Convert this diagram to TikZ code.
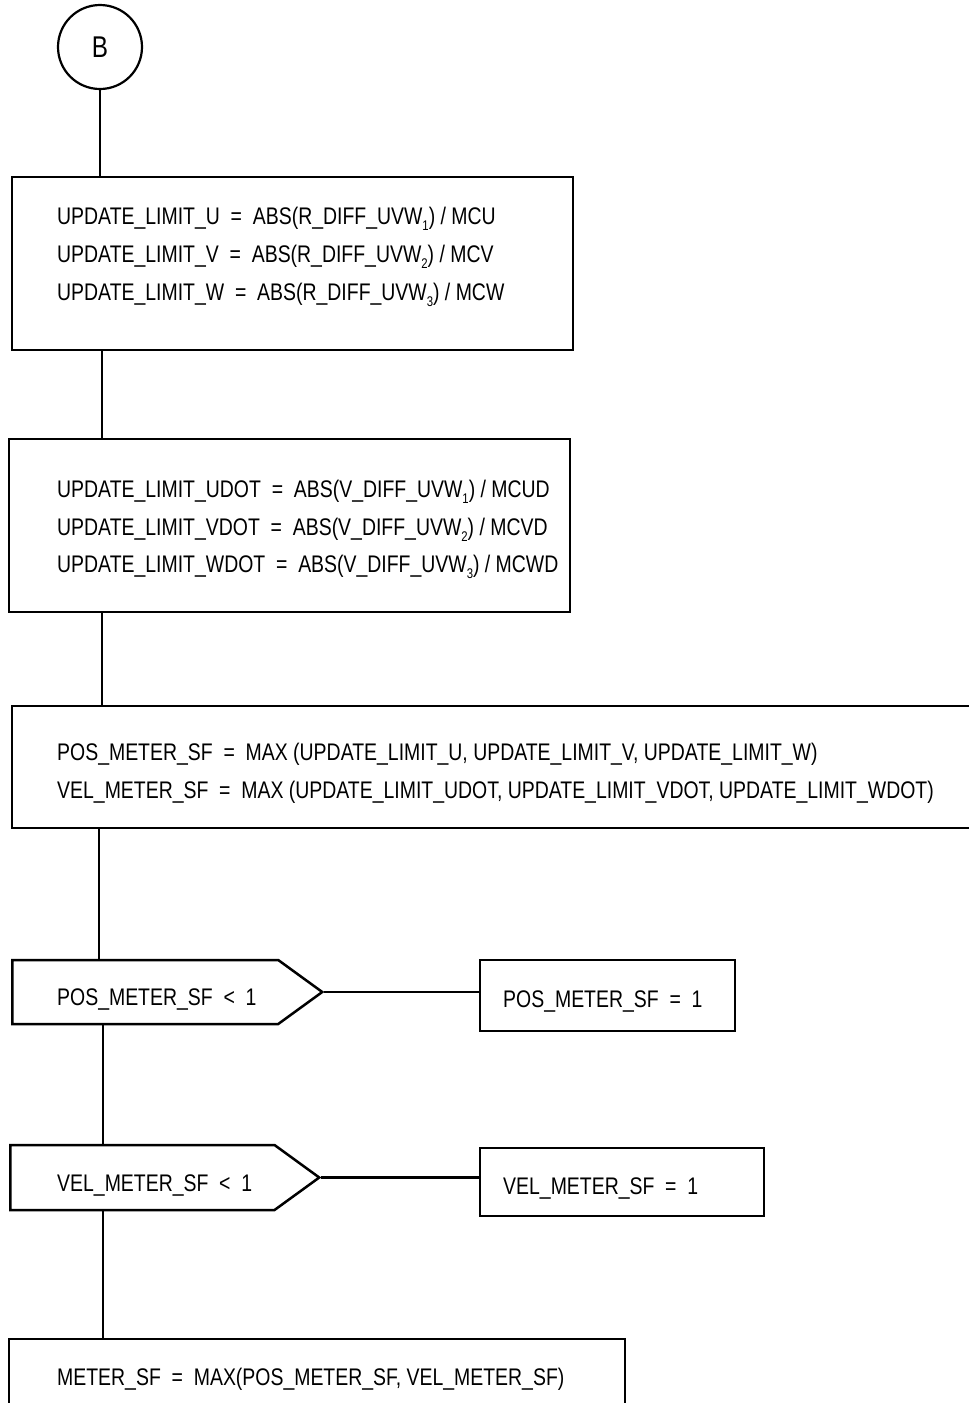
\documentclass[tikz,border=0pt]{standalone}
\usepackage{fontspec}
\setmainfont{Liberation Sans}[FakeStretch=0.81]
\usetikzlibrary{shapes.symbols}
\newcommand{\sbs}[1]{\raisebox{-6pt}{\fontsize{14}{14}\selectfont #1}}
\newcommand{\eqs}{\ \ =\ \ }
\tikzset{
  lbl/.style={anchor=base west, inner sep=0pt, font=\fontsize{24}{28}\selectfont},
  boxx/.style={draw, line width=2.5pt, rectangle, inner sep=0pt},
  conn/.style={line width=2.2pt},
  decis/.style={draw, line width=2.5pt, signal, signal to=east, inner sep=0pt}
}
\begin{document}
\begin{tikzpicture}[x=1pt,y=-1pt]
\useasboundingbox (0,0) rectangle (969,1403);
% connector circle
\node[draw, circle, line width=2.2pt, minimum size=84pt, inner sep=0pt, font=\fontsize{30}{32}\selectfont] (b) at (100,47) {B};
% box 1
\node[boxx, minimum width=561pt, minimum height=173pt] (box1) at (292.5,263.5) {};
\node[lbl] (t1a) at (57,224) {UPDATE\_LIMIT\_U\eqs ABS(R\_DIFF\_UVW\sbs{1}) / MCU};
\node[lbl] (t1b) at (57,262) {UPDATE\_LIMIT\_V\eqs ABS(R\_DIFF\_UVW\sbs{2}) / MCV};
\node[lbl] (t1c) at (57,300) {UPDATE\_LIMIT\_W\eqs ABS(R\_DIFF\_UVW\sbs{3}) / MCW};
% box 2
\node[boxx, minimum width=561pt, minimum height=173pt] (box2) at (289.5,525.5) {};
\node[lbl] (t2a) at (57,497) {UPDATE\_LIMIT\_UDOT\eqs ABS(V\_DIFF\_UVW\sbs{1}) / MCUD};
\node[lbl] (t2b) at (57,535) {UPDATE\_LIMIT\_VDOT\eqs ABS(V\_DIFF\_UVW\sbs{2}) / MCVD};
\node[lbl] (t2c) at (57,572) {UPDATE\_LIMIT\_WDOT\eqs ABS(V\_DIFF\_UVW\sbs{3}) / MCWD};
% box 3 (runs past right edge)
\node[boxx, minimum width=970pt, minimum height=122pt] (box3) at (497,767) {};
\node[lbl] (t3a) at (57,760) {POS\_METER\_SF\eqs MAX (UPDATE\_LIMIT\_U, UPDATE\_LIMIT\_V, UPDATE\_LIMIT\_W)};
\node[lbl] (t3b) at (57,798) {VEL\_METER\_SF\eqs MAX (UPDATE\_LIMIT\_UDOT, UPDATE\_LIMIT\_VDOT, UPDATE\_LIMIT\_WDOT)};
% decision 1
\node[decis, minimum width=310pt, minimum height=64pt, signal pointer angle=72, anchor=west] (d1) at (11,992) {};
\node[lbl] (t4) at (57,1005) {POS\_METER\_SF\ \ <\ \ 1};
\node[boxx, minimum width=255pt, minimum height=71pt] (a1) at (607.5,995.5) {};
\node[lbl] (t5) at (503,1007) {POS\_METER\_SF\eqs 1};
% decision 2
\node[decis, minimum width=309pt, minimum height=65pt, signal pointer angle=72, anchor=west] (d2) at (9,1177.5) {};
\node[lbl] (t6) at (57,1191) {VEL\_METER\_SF\ \ <\ \ 1};
\node[boxx, minimum width=284pt, minimum height=68pt] (a2) at (622,1182) {};
\node[lbl] (t7) at (503,1194) {VEL\_METER\_SF\eqs 1};
% final box (runs past bottom edge)
\node[boxx, minimum width=616pt, minimum height=90pt] (box4) at (317,1384) {};
\node[lbl] (t8) at (57,1385) {METER\_SF\eqs MAX(POS\_METER\_SF, VEL\_METER\_SF)};
% connectors
\draw[conn] (b.south) -- (b.south |- box1.north);
\draw[conn] ([xshift=91pt]box1.south west) coordinate (c1) -- (c1 |- box2.north);
\draw[conn] ([xshift=94pt]box2.south west) coordinate (c2) -- (c2 |- box3.north);
\draw[conn] ([xshift=88pt]box3.south west) coordinate (c3) -- (c3 |- d1.north);
\draw[conn] (d1.east) -- (d1.east -| a1.west);
\draw[conn] ([xshift=92pt]d1.south west) coordinate (c4) -- (c4 |- d2.north);
\draw[conn] (d2.east) -- (d2.east -| a2.west);
\draw[conn] ([xshift=94pt]d2.south west) coordinate (c5) -- (c5 |- box4.north);
\end{tikzpicture}
\end{document}
